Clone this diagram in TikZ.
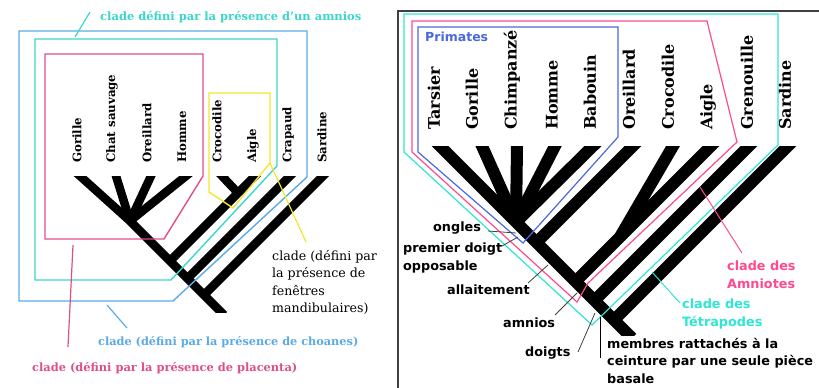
\documentclass[tikz,border=0pt]{standalone}
\usepackage{fontspec}
\setmainfont{DejaVu Serif}
\setsansfont{DejaVu Sans}
\definecolor{lblue}{HTML}{5AAAE6}
\definecolor{lcyan}{HTML}{3CD6CA}
\definecolor{lpink}{HTML}{DE4E8A}
\definecolor{lyellow}{HTML}{F2E62E}
\definecolor{rblue}{HTML}{4A68E0}
\definecolor{rpink}{HTML}{FF4A90}
\definecolor{rcyan}{HTML}{2EE6D2}

\begin{document}
\begin{tikzpicture}[x=1pt,y=-1pt,
  branch/.style={line width=8.5pt},
  bigbranch/.style={line width=12pt},
  leaf/.style={rotate=90,anchor=west,inner sep=0pt,font=\fontsize{11.8}{13}\selectfont\bfseries},
  bigleaf/.style={rotate=90,anchor=west,inner sep=0pt,font=\fontsize{16}{18}\selectfont\bfseries},
  note/.style={inner sep=0pt,align=left,font=\fontsize{12.6}{17.5}\selectfont},
  tag/.style={inner sep=0pt,align=left,font=\sffamily\bfseries\fontsize{12.8}{17.5}\selectfont},
  box/.style={line width=1.4pt},
  lead/.style={line width=0.8pt,draw=black!75}]
\useasboundingbox (0,0) rectangle (819,388);

% left tree
\coordinate (gor) at (80,176);
\coordinate (chat) at (116,176);
\coordinate (orei) at (151,176);
\coordinate (hom) at (186,176);
\coordinate (croc) at (222,176);
\coordinate (aig) at (255,176);
\coordinate (crap) at (290,176);
\coordinate (sard) at (323,176);
\coordinate (m) at (130,221);
\coordinate (ca) at (238,193);
\coordinate (caj) at (170,261);
\coordinate (crapj) at (187.5,278.5);
\coordinate (sardj) at (204,295);
\coordinate (root) at (224,315);
\begin{scope}
\clip (0,176) rectangle (395,312);
\draw[branch,shorten <=-8pt] (gor) -- (m) -- (root);
\draw[branch,shorten >=-8pt] (m) -- (chat);
\draw[branch,shorten >=-8pt] (m) -- (orei);
\draw[branch,shorten >=-8pt] (m) -- (hom);
\draw[branch,shorten >=-8pt] (caj) -- (aig);
\draw[branch,shorten >=-8pt] (ca) -- (croc);
\draw[branch,shorten >=-8pt] (crapj) -- (crap);
\draw[branch,shorten >=-8pt] (sardj) -- (sard);
\end{scope}

\node[leaf] (a1) at (77,163) {Gorille};
\node[leaf] (a2) at (112,163) {Chat sauvage};
\node[leaf] (a3) at (147,163) {Oreillard};
\node[leaf] (a4) at (182,163) {Homme};
\node[leaf] (a5) at (217,163) {Crocodile};
\node[leaf] (a6) at (253,163) {Aigle};
\node[leaf] (a7) at (288,163) {Crapaud};
\node[leaf] (a8) at (322,163) {Sardine};

% left clades
\draw[box,lblue] (19,31) -- (307,31) -- (307,177) -- (173,301) -- (19,301) -- cycle;
\draw[box,lcyan] (35,39) -- (277,39) -- (277,166) -- (171,280) -- (35,280) -- cycle;
\draw[box,lpink] (45,54) -- (203,54) -- (203,176) -- (164,239) -- (45,239) -- cycle;
\draw[box,lyellow] (209,93) -- (270,93) -- (270,163) -- (233,208) -- (209,192) -- cycle;

\node[note,anchor=west,text=lcyan,font=\fontsize{11.5}{15}\selectfont\bfseries] (amn) at (100,17) {clade défini par la présence d'un amnios};
\node[note,anchor=west,text=lblue,font=\fontsize{11.3}{15}\selectfont\bfseries] (cho) at (98,342) {clade (défini par la présence de choanes)};
\node[note,anchor=west,text=lpink,font=\fontsize{11.4}{15}\selectfont\bfseries] (pla) at (32,368) {clade (défini par la présence de placenta)};
\node[note,anchor=north west] (fen) at (272,250) {clade (défini par\\la présence de\\fenêtres\\mandibulaires)};

\coordinate (amn1) at (90,12);
\coordinate (amn2) at (75,37);
\coordinate (cho1) at (127,328);
\coordinate (cho2) at (107,305);
\coordinate (pla1) at (68,347);
\coordinate (pla2) at (73,245);
\coordinate (fen1) at (306,242);
\coordinate (fen2) at (270,163);
\draw[lcyan,line width=1.2pt] (amn1) -- (amn2);
\draw[lblue,line width=1.2pt] (cho1) -- (cho2);
\draw[lpink,line width=1.2pt] (pla1) -- (pla2);
\draw[lyellow,line width=1.2pt] (fen1) -- (fen2);

% right panel
\draw[line width=1.3pt,black!75] (819,11) -- (398,11) -- (398,388);

\coordinate (tar) at (440,146);
\coordinate (gor2) at (482,146);
\coordinate (chim) at (517,146);
\coordinate (hom2) at (555,146);
\coordinate (bab) at (593,146);
\coordinate (orei2) at (633,146);
\coordinate (croc2) at (673,146);
\coordinate (aig2) at (711,146);
\coordinate (gren) at (749,146);
\coordinate (sard2) at (788,146);
\coordinate (p) at (516,222);
\coordinate (oreij) at (536.5,242.5);
\coordinate (ca2) at (620,237);
\coordinate (aigj) at (575.5,281.5);
\coordinate (grenj) at (594.5,300.5);
\coordinate (sardj2) at (614,320);
\coordinate (root2) at (632,338);
\begin{scope}
\clip (400,146) rectangle (819,335);
\draw[bigbranch,shorten <=-10pt] (tar) -- (root2);
\draw[bigbranch,shorten >=-10pt] (p) -- (gor2);
\draw[bigbranch,shorten >=-10pt] (p) -- (chim);
\draw[bigbranch,shorten >=-10pt] (p) -- (hom2);
\draw[bigbranch,shorten >=-10pt] (p) -- (bab);
\draw[bigbranch,shorten >=-10pt] (oreij) -- (orei2);
\draw[bigbranch,shorten >=-10pt] (ca2) -- (croc2);
\draw[bigbranch,shorten >=-10pt] (aigj) -- (aig2);
\draw[bigbranch,shorten >=-10pt] (grenj) -- (gren);
\draw[bigbranch,shorten >=-10pt] (sardj2) -- (sard2);
\end{scope}

\node[bigleaf] (b1) at (434,130) {Tarsier};
\node[bigleaf] (b2) at (472,130) {Gorille};
\node[bigleaf] (b3) at (512,130) {Chimpanzé};
\node[bigleaf] (b4) at (552,130) {Homme};
\node[bigleaf] (b5) at (590,130) {Babouin};
\node[bigleaf] (b6) at (629,130) {Oreillard};
\node[bigleaf] (b7) at (668,130) {Crocodile};
\node[bigleaf] (b8) at (708,130) {Aigle};
\node[bigleaf] (b9) at (747,130) {Grenouille};
\node[bigleaf] (b10) at (785,130) {Sardine};

% right clades
\draw[box,line width=1.2pt,rcyan] (404,14) -- (778,14) -- (778,145) -- (592,325) -- (404,152) -- cycle;
\draw[box,line width=1.2pt,rpink] (412,21) -- (707,21) -- (737,142) -- (588,283) -- (577,302) -- (412,152) -- cycle;
\draw[box,line width=1.2pt,rblue] (418,27) -- (618,27) -- (618,137) -- (523,243) -- (418,152) -- cycle;

\node[tag,anchor=west,text=rblue,font=\sffamily\bfseries\fontsize{12.5}{17.5}\selectfont] (prim) at (425,37) {Primates};
\node[tag,anchor=west] (ong) at (433,228) {ongles};
\node[tag,anchor=north west] (pdo) at (403,243) {premier doigt\\opposable};
\node[tag,anchor=west] (all) at (447,290) {allaitement};
\node[tag,anchor=west] (amnr) at (503,323) {amnios};
\node[tag,anchor=west] (doi) at (525,353) {doigts};
\node[tag,anchor=north west] (mem) at (607,338) {membres rattachés à la\\ceinture par une seule pièce\\basale};
\node[tag,anchor=north west,text=rpink] (camn) at (727,261) {clade des\\Amniotes};
\node[tag,anchor=north west,text=rcyan] (ctet) at (682,299) {clade des\\Tétrapodes};

\coordinate (ong1) at (488,231);
\coordinate (ong2) at (516,233);
\coordinate (pdo1) at (502,246);
\coordinate (pdo2) at (518,237);
\coordinate (all1) at (528,283);
\coordinate (all2) at (548,265);
\coordinate (amn3) at (555,315);
\coordinate (amn4) at (577,293);
\coordinate (doi1) at (578,352);
\coordinate (doi2) at (595,313);
\coordinate (mem1) at (600,358);
\coordinate (mem2) at (600,317);
\coordinate (camn1) at (742,253);
\coordinate (camn2) at (700,187);
\coordinate (ctet1) at (680,303);
\coordinate (ctet2) at (652,272);
\draw[lead] (ong1) -- (ong2);
\draw[lead] (pdo1) -- (pdo2);
\draw[lead] (all1) -- (all2);
\draw[lead] (amn3) -- (amn4);
\draw[lead] (doi1) -- (doi2);
\draw[lead,black] (mem1) -- (mem2);
\draw[line width=1pt,rpink] (camn1) -- (camn2);
\draw[line width=1pt,rcyan] (ctet1) -- (ctet2);
\end{tikzpicture}
\end{document}
